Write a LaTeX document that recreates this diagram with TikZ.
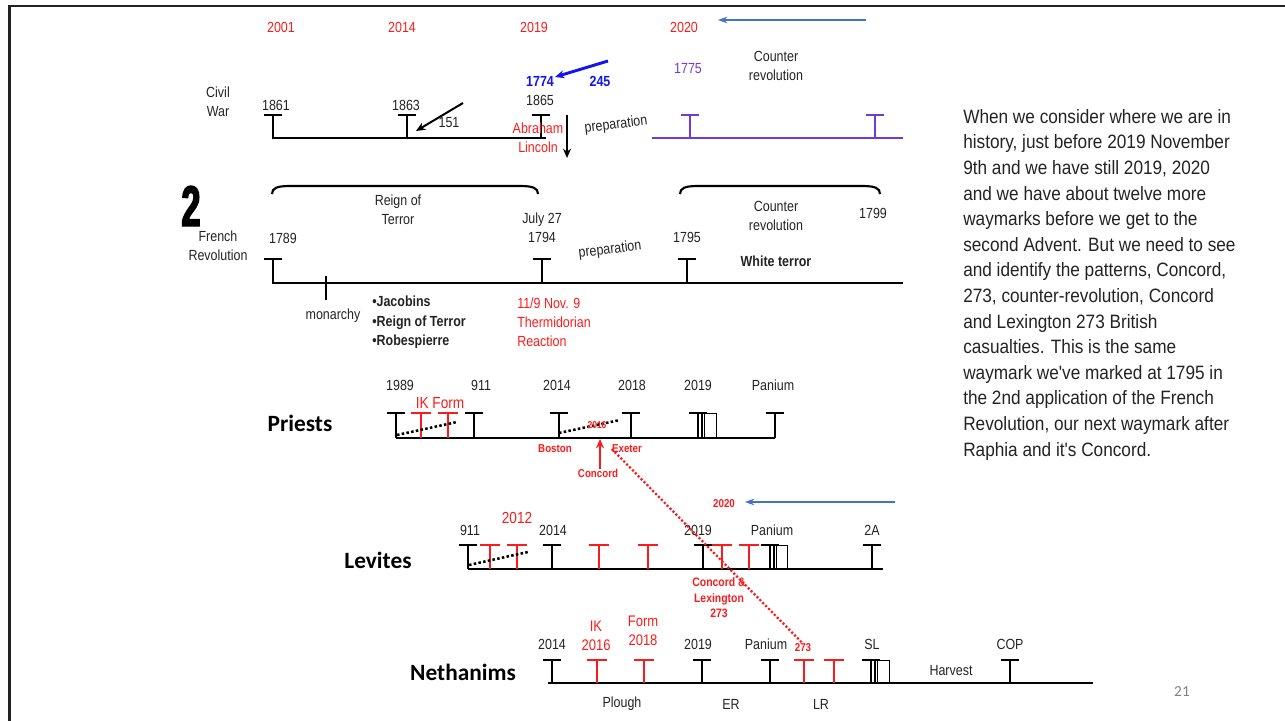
\documentclass[tikz,border=0pt]{standalone}
\usepackage{fontspec}
\setmainfont[FakeStretch=0.85]{Liberation Sans}
\newfontfamily\calfont{Carlito}
\newfontfamily\numfont[FakeStretch=0.6,FakeBold=2.5]{Liberation Sans}
\newfontfamily\parafont[FakeStretch=0.89]{Liberation Sans}
\usetikzlibrary{arrows.meta}

\definecolor{ink}{RGB}{35,35,35}
\definecolor{mark}{RGB}{250,28,28}
\definecolor{royal}{RGB}{20,20,235}
\definecolor{violetline}{RGB}{112,58,214}
\definecolor{steel}{RGB}{68,114,196}

\tikzset{
  lbl/.style={inner sep=0pt, align=center, text=ink, font=\fontsize{11}{14.3}\selectfont},
  redlbl/.style={lbl, text=mark},
  boldlbl/.style={lbl, font=\bfseries\fontsize{11}{14.6}\selectfont},
  smallred/.style={inner sep=0pt, align=center, text=mark, font=\bfseries\fontsize{8.6}{11.6}\selectfont},
  rowname/.style={inner sep=0pt, text=black, font=\calfont\bfseries\fontsize{17.5}{20}\selectfont},
  bar/.style={line width=2.2pt, draw=black},
  redbar/.style={line width=2.2pt, draw=mark},
  bracket/.style={line width=1.6pt, draw=black},
  blackdots/.style={line width=1.9pt, dash pattern=on 1.9pt off 1.7pt},
  reddots/.style={line width=1.7pt, draw=mark, dash pattern=on 1.6pt off 1.5pt},
  pointer/.style={line width=1.5pt, -{Stealth[length=7pt,width=6pt]}},
  thinpointer/.style={line width=0.8pt, draw=steel, -{Stealth[length=7pt,width=5pt]}},
}

\begin{document}
\begin{tikzpicture}[x=0.75pt,y=-0.75pt]
\useasboundingbox (0,0) rectangle (1285,721);
% slide frame
\draw[line width=1.9pt, ink] (9.5,721) -- (9.5,6) -- (1285,6);

% years on top
\node[redlbl] (top2001) at (281,27) {2001};
\node[redlbl] (top2014) at (402,27) {2014};
\node[redlbl] (top2019) at (534,27) {2019};
\node[redlbl] (top2020) at (684,27) {2020};
\coordinate (topfrom) at (866,20);
\coordinate (topto) at (718,20);
\draw[thinpointer] (topfrom) -- (topto);

% Civil War
\node[lbl] (civil) at (218,102) {Civil\\War};
\draw[bar] (273,115) -- (273,138) -- (546,138);
\foreach \x in {273,407,541} {\draw[bar] (\x,138) -- (\x,115) (\x-9,115) -- (\x+9,115);}
\node[lbl] (c1861) at (276,105) {1861};
\node[lbl] (c1863) at (406,105) {1863};
\node[lbl] (c1865) at (540,100) {1865};
\node[lbl] (c151) at (449,123) {151};
\coordinate (c151from) at (463,103);
\coordinate (c151to) at (416,131);
\draw[pointer] (c151from) -- (c151to);
\node[boldlbl, text=royal] (c1774) at (540,81) {1774};
\node[boldlbl, text=royal] (c245) at (600,81) {245};
\coordinate (c245from) at (608,61);
\coordinate (c245to) at (555,77);
\draw[pointer, draw=royal, line width=2.2pt] (c245from) -- (c245to);
\node[redlbl] (lincoln) at (538,137.5) {Abraham\\Lincoln};
\coordinate (downfrom) at (567,115);
\coordinate (downto) at (567,158);
\draw[pointer] (downfrom) -- (downto);
\node[lbl, rotate=7] (prep1) at (616,125) {preparation};

% counter revolution (purple)
\draw[bar, draw=violetline] (652,138) -- (903,138);
\foreach \x in {690,875} {\draw[bar, draw=violetline] (\x,138) -- (\x,115) (\x-9,115) -- (\x+9,115);}
\node[lbl, text=violetline] (c1775) at (688,69) {1775};
\node[lbl] (counter1) at (776,66) {Counter\\revolution};

% French Revolution
\node[inner sep=0pt, font=\numfont\bfseries\fontsize{43}{43}\selectfont] (two) at (191,206) {2};
\node[lbl] (french) at (218,246) {French\\Revolution};
\draw[bracket] (272,194) .. controls (272,188) and (277,186) .. (290,186) -- (520,186) .. controls (533,186) and (538,188) .. (538,194);
\draw[bracket] (680,194) .. controls (680,188) and (685,186) .. (698,186) -- (862,186) .. controls (875,186) and (880,188) .. (880,194);
\node[lbl] (reign) at (398,210) {Reign of\\Terror};
\node[lbl] (f1789) at (283,238) {1789};
\node[lbl] (f1794) at (542,228) {July 27\\1794};
\draw[bar] (273,259) -- (273,283) -- (903,283);
\foreach \x in {273,542,687} {\draw[bar] (\x,283) -- (\x,259) (\x-9,259) -- (\x+9,259);}
\draw[bar] (326,276) -- (326,300);
\node[lbl] (monarchy) at (333,316) {monarchy};
\node[boldlbl, align=left, anchor=west] (jacobins) at (372,322.5) {\textbullet Jacobins\\\textbullet Reign of Terror\\\textbullet Robespierre};
\node[redlbl, align=left, anchor=west] (thermidor) at (517,322.5) {11/9 Nov. 9\\Thermidorian\\Reaction};
\node[lbl, rotate=7] (prep2) at (610,250) {preparation};
\node[lbl] (f1795) at (687,237) {1795};
\node[lbl] (counter2) at (776,216) {Counter\\revolution};
\node[lbl] (f1799) at (873,213) {1799};
\node[boldlbl] (white) at (776,261) {White terror};

% Priests
\node[rowname] (priests) at (300,423) {Priests};
\draw[bar] (396,438) -- (775,438);
\foreach \x in {396,474,559,631,698,775} {\draw[bar] (\x,438) -- (\x,413) (\x-9,413) -- (\x+9,413);}
\foreach \x in {421,448} {\draw[redbar] (\x,438) -- (\x,413) (\x-10,413) -- (\x+10,413);}
\draw[line width=0.9pt] (702,438) -- (702,413);
\draw[line width=0.7pt] (704.5,413) rectangle (716,438);
\node[lbl] (p1989) at (400,385) {1989};
\node[lbl] (p911) at (481,385) {911};
\node[lbl] (p2014) at (557,385) {2014};
\node[lbl] (p2018) at (632,385) {2018};
\node[lbl] (p2019) at (698,385) {2019};
\node[lbl] (ppanium) at (773,385) {Panium};
\node[redlbl, font=\fontsize{12}{14}\selectfont] (ikform) at (440,403) {IK Form};
\draw[blackdots] (397,435) -- (457,422);
\draw[blackdots] (559,433) -- (620,420);
\node[smallred, font=\bfseries\fontsize{7.5}{9}\selectfont] (p2016) at (597,425) {2016};
\node[smallred] (boston) at (555,449) {Boston};
\node[smallred] (exeter) at (627,449) {Exeter};
\node[smallred] (concord) at (598,473) {Concord};
\coordinate (concordtip) at (600,439);
\draw[pointer, draw=mark, line width=1.8pt] (concord.north -| concordtip) -- (concordtip);

% Levites
\node[rowname] (levites) at (378,560) {Levites};
\node[smallred] (l2020) at (724,504) {2020};
\coordinate (lfrom) at (895,502);
\coordinate (lto) at (745,502);
\draw[thinpointer] (lfrom) -- (lto);
\draw[bar] (468,569) -- (883,569);
\foreach \x in {468,552,703,770,872} {\draw[bar] (\x,569) -- (\x,545) (\x-9,545) -- (\x+9,545);}
\foreach \x in {490,517,599,648,722,749} {\draw[redbar] (\x,569) -- (\x,545) (\x-10,545) -- (\x+10,545);}
\draw[line width=0.9pt] (774,569) -- (774,545);
\draw[line width=0.7pt] (776.5,545) rectangle (787,569);
\node[lbl] (l911) at (470,530) {911};
\node[redlbl, font=\fontsize{12}{14}\selectfont] (l2012) at (517,518) {2012};
\node[lbl] (l2014) at (553,530) {2014};
\node[lbl] (l2019) at (698,530) {2019};
\node[lbl] (lpanium) at (772,530) {Panium};
\node[lbl] (l2a) at (872,530) {2A};
\draw[blackdots] (469,565) -- (528,552);
\node[smallred, font=\bfseries\fontsize{9.2}{11.6}\selectfont] (lexington) at (719,598) {Concord \&\\Lexington\\273};

% Nethanims
\node[rowname] (nethanims) at (463,672) {Nethanims};
\draw[bar] (548,683) -- (1093,683);
\foreach \x in {552,702,770,871,1010} {\draw[bar] (\x,683) -- (\x,660) (\x-9,660) -- (\x+9,660);}
\foreach \x in {597,644,804,834} {\draw[redbar] (\x,683) -- (\x,660) (\x-10,660) -- (\x+10,660);}
\draw[line width=0.9pt] (875,683) -- (875,660);
\draw[line width=0.7pt] (877.5,660) rectangle (889,683);
\node[lbl] (n2014) at (552,644) {2014};
\node[redlbl, font=\fontsize{11.5}{14.3}\selectfont] (nik) at (596,636) {IK\\2016};
\node[redlbl, font=\fontsize{11.5}{14.3}\selectfont] (nform) at (643,631) {Form\\2018};
\node[lbl] (n2019) at (698,644) {2019};
\node[lbl] (npanium) at (766,644) {Panium};
\node[smallred] (n273) at (803,648) {273};
\node[lbl] (nsl) at (872,644) {SL};
\node[lbl] (ncop) at (1010,644) {COP};
\node[lbl] (harvest) at (951,671) {Harvest};
\node[lbl] (plough) at (622,704) {Plough};
\node[lbl] (ner) at (731,704) {ER};
\node[lbl] (nlr) at (821,704) {LR};

% Exeter down to 273
\draw[reddots] (exeter.west) -- (n273.north);

% note on the right
\node[inner sep=0pt, anchor=north west, align=left, text=ink, font=\parafont\fontsize{14.5}{19.2}\selectfont] (note) at (963,109) {When we consider where we are in\\history, just before 2019 November\\9th and we have still 2019, 2020\\and we have about twelve more\\waymarks before we get to the\\second Advent. But we need to see\\and identify the patterns, Concord,\\273, counter-revolution, Concord\\and Lexington 273 British\\casualties. This is the same\\waymark we've marked at 1795 in\\the 2nd application of the French\\Revolution, our next waymark after\\Raphia and it's Concord.};

\node[inner sep=0pt, text=black!50, font=\calfont\fontsize{11.5}{12}\selectfont] (pagenum) at (1182,692) {21};
\end{tikzpicture}
\end{document}
